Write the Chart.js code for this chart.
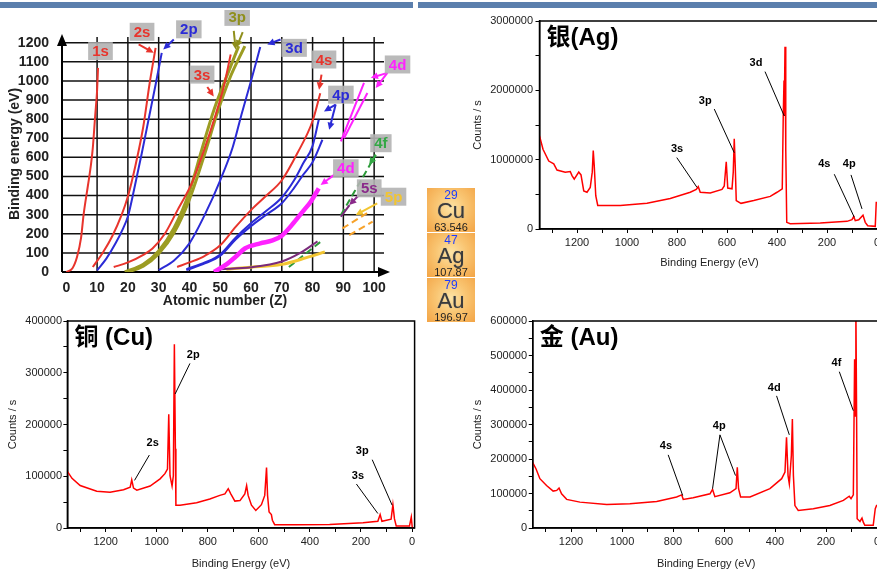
<!DOCTYPE html>
<html>
<head>
<meta charset="utf-8">
<script src="https://cdn.jsdelivr.net/npm/chart.js@4.4.1/dist/chart.umd.min.js"></script>
<style>
  body { margin: 0; width: 877px; height: 572px; overflow: hidden; background: #fff; position: relative; }
  canvas { position: absolute; }
  .bar { position: absolute; top: 2px; height: 6px; background: #5b7fad; }
  .tile { position: absolute; left: 427px; width: 48px; height: 44px; text-align: center;
          font-family: "Liberation Sans", Arial, sans-serif;
          background: radial-gradient(ellipse at 50% 45%, #fde4a6 0%, #f9c572 45%, #f3a445 100%);
          border-bottom: 1px solid #fff; }
  .tile span { position: absolute; left: 0; right: 0; }
  .num { top: 1px; font-size: 12px; line-height: 12px; color: #1f3cff; }
  .sym { top: 12px; font-size: 22px; line-height: 22px; color: #3a3a3a; text-shadow: 0 0 1px #888; }
  .wt { top: 34px; font-size: 11px; line-height: 11px; color: #222; }
</style>
</head>
<body>
<div class="bar" style="left:0;width:413px"></div>
<div class="bar" style="left:418px;width:459px"></div>

<canvas id="zChart" width="415" height="300" style="left:0;top:10px"></canvas>
<canvas id="agChart" width="450" height="270" style="left:440px;top:10px"></canvas>
<canvas id="cuChart" width="430" height="262" style="left:0;top:310px"></canvas>
<canvas id="auChart" width="450" height="262" style="left:440px;top:310px"></canvas>

<div class="tile" style="top:188px"><span class="num">29</span><span class="sym">Cu</span><span class="wt">63.546</span></div>
<div class="tile" style="top:233px"><span class="num">47</span><span class="sym">Ag</span><span class="wt">107.87</span></div>
<div class="tile" style="top:278px"><span class="num">79</span><span class="sym">Au</span><span class="wt">196.97</span></div>

<script>
// ---- Bindungsenergie gegen Ordnungszahl: Kurven als [Z, eV] ----
const zTicks = [0, 10, 20, 30, 40, 50, 60, 70, 80, 90, 100];
const eTicks = [0, 100, 200, 300, 400, 500, 600, 700, 800, 900, 1000, 1100, 1200];

const orbit1s = [[0,0],[2,20],[3.5,80],[4.8,180],[5.6,298],[7,450],[8,560],[8.6,648],[9.4,823],[10,950],[10.3,1068]];
const orbit2s = [[8.6,26],[12,105],[15,190],[18,300],[20,395],[22.5,560],[25,760],[27,980],[29,1173]];
const orbit2p = [[10,9],[13,70],[16,150],[18.5,230],[20,290],[22,430],[24.5,620],[27,820],[29,980],[31,1147]];
const orbit3s = [[15.4,26],[20,50],[25,90],[28,123],[32,200],[36,320],[41,473],[45,650],[48.5,823],[51,960],[53.4,1138]];
const orbit3pA = [[19,0],[25,40],[30,110],[35,230],[40,420],[44,640],[48,850],[52,1020],[56,1182]];
const orbit3pB = [[20,0],[25,30],[30,95],[35,205],[40,380],[45,620],[49,830],[53,1010],[58,1182]];
const orbit3d = [[30,10],[35,60],[40,150],[45,300],[50,480],[54,650],[57,830],[60,1000],[63,1177]];
const orbit4s = [[36,26],[40,50],[45,85],[50,140],[55,236],[60,324],[65,400],[70,480],[75,620],[80,790],[82.5,935]];
const orbit4pA = [[39,15],[45,50],[50,92],[55,180],[60,255],[65,320],[70,390],[74,480],[77,570],[80,660],[82,797]];
const orbit4pB = [[39,10],[45,45],[50,85],[55,170],[60,240],[65,300],[70,360],[74,440],[77,510],[80,575],[83.2,692]];
const orbit4dLow = [[48,0],[52,40],[55,80],[58,123],[63,150],[67,165],[70,190],[74,260],[77,320],[79.4,368],[82,438]];
const orbit4dUpA = [[89.2,683],[96.7,990]];
const orbit4dUpB = [[90.2,700],[97.8,937]];
const orbit5sLow = [[50,15],[60,25],[70,55],[76,100],[81.6,160]];
const orbit5sUp = [[89.2,289],[92,350]];
const orbit5pLow = [[52,15],[60,25],[70,40],[78,75],[84,105]];
const orbit5pUpA = [[89.7,228],[98.4,315]];
const orbit5pUpB = [[91.9,193],[99.5,263]];
const orbit4fLow = [[72.3,26],[83.2,166]];
const orbit4fUp = [[89.2,298],[100.5,613]];

// Beschriftungen [Text, Z, eV] und Pfeile [Schale, Z1, eV1, Z2, eV2]
const orbitLabels = [
  ['1s', 11.1, 1156], ['2s', 24.6, 1257], ['2p', 39.8, 1270], ['3p', 55.5, 1335],
  ['3d', 74, 1173], ['3s', 44.1, 1033], ['4s', 83.7, 1112], ['4p', 89.2, 928],
  ['4d', 107.6, 1086], ['4f', 102.2, 674], ['4d', 90.8, 543], ['5s', 98.4, 438], ['5p', 106.3, 394]
];
const orbitArrows = [
  ['2s', 23.5, 1191, 28.4, 1147], ['2p', 34.9, 1217, 31.5, 1165],
  ['3p', 54.4, 1262, 55, 1165], ['3p', 57.3, 1255, 55.3, 1175],
  ['3d', 69.6, 1217, 65.3, 1191], ['3s', 45.8, 968, 47.9, 919], ['4s', 82.9, 1033, 82.1, 954],
  ['4p', 87.5, 876, 83.7, 840], ['4p', 87.5, 876, 85.4, 744],
  ['4d', 104.3, 1042, 98.9, 1016], ['4d', 104.3, 1042, 100.5, 963],
  ['4f', 100.5, 613, 98.4, 560], ['4d', 87, 508, 82.6, 455],
  ['5s', 95.1, 403, 91.9, 350], ['5p', 101, 359, 94, 298]
];

// ---- XPS-Spektren: Bindungsenergie (eV) und Counts/s ----
const beTicks = [0, 100, 200, 300, 400, 500, 600, 700, 800, 900, 1000, 1100, 1200, 1300];

const agEnergy = [1350,1336,1313,1293,1280,1247,1227,1220,1211,1193,1184,1173,1160,1147,1139,1135,1131,1125,1117,1027,
  920,827,747,723,715,707,667,620,611,603,597,580,575,571,567,563,544,493,427,400,
  379,375,372,371,368,365,361,347,227,120,100,93,87,73,56,47,37,7,3,-10];
const agCounts = [1344000,1150000,980000,940000,850000,820000,830000,770000,720000,820000,780000,550000,530000,600000,820000,1130000,910000,480000,340000,340000,
  370000,440000,530000,570000,610000,530000,520000,570000,620000,970000,590000,580000,820000,1300000,910000,410000,370000,410000,470000,530000,
  580000,1630000,2140000,1630000,2630000,1150000,96000,77000,86000,110000,134000,180000,120000,134000,200000,96000,48000,38000,384000,384000];

const cuEnergy = [1352,1332,1300,1235,1183,1130,1104,1098,1091,1078,1026,987,968,958,953,948,940,935,931,927,
  925,909,844,792,753,733,720,710,694,674,655,648,642,629,612,590,577,570,566,560,
  551,547,538,453,323,192,134,125,118,82,75,69,62,10,3,-1,-10];
const cuCounts = [111000,96000,82000,71000,69000,74000,79000,93000,77000,73000,81000,95000,105000,114000,220000,101000,81000,101000,355000,153000,
  44000,44000,49000,56000,63000,66000,76000,66000,52000,53000,66000,82000,63000,44000,34000,45000,63000,117000,63000,31000,
  26000,15000,6400,6400,7000,10000,13000,26000,13000,17000,45000,18000,4000,4000,21000,0,0];

const auEnergy = [1351,1337,1322,1296,1270,1256,1247,1237,1217,1165,1060,969,864,786,766,760,721,655,645,636,
  577,553,548,543,535,498,420,374,361,355,349,344,336,332,328,322,309,250,185,132,
  109,102,93,88,85,83,80,78,67,59,54,48,15,7,2,-10];
const auCounts = [191000,171000,143000,123000,107000,109000,116000,99000,83000,75000,68000,70000,77000,90000,96000,83000,88000,99000,112000,91000,
  102000,114000,176000,114000,90000,90000,114000,143000,162000,263000,152000,128000,210000,316000,152000,65000,51000,56000,65000,80000,
  92000,85000,96000,489000,325000,650000,300000,27000,19000,29000,17000,8000,8000,56000,65000,65000];

// Peak-Beschriftungen [Text, eV, Counts, Linie eV1, Counts1, eV2, Counts2]
const agNotes = [
  ['3s', 800, 1150000, 801, 1030000, 720, 600000],
  ['3p', 687, 1850000, 651, 1730000, 571, 1100000],
  ['3d', 484, 2390000, 448, 2270000, 371, 1630000],
  ['4s', 211, 936000, 171, 790000, 91, 170000],
  ['4p', 111, 936000, 104, 780000, 60, 290000]
];
const cuNotes = [
  ['2s', 1016, 164000, 1029, 141000, 1087, 92000],
  ['2p', 857, 334000, 870, 318000, 928, 259000],
  ['3s', 212, 101000, 218, 85000, 134, 28000],
  ['3p', 195, 148000, 156, 132000, 78, 44000]
];
const auNotes = [
  ['4s', 828, 239000, 819, 212000, 762, 94000],
  ['4p', 619, 295000, 616, 270000, 645, 114000],
  ['', 0, 0, 616, 270000, 555, 152000],
  ['4d', 403, 407000, 394, 383000, 344, 270000],
  ['4f', 159, 478000, 148, 453000, 93, 340000]
];

const FAM = '"Liberation Sans", Arial, "Noto Sans CJK SC", sans-serif';
const labelColors = {
  '1s': '#e8342c', '2s': '#e8342c', '3s': '#e8342c', '4s': '#e8342c',
  '2p': '#2b2bd6', '3d': '#2b2bd6', '4p': '#2b2bd6', '3p': '#8f8f1c',
  '4d': '#ff22ff', '4f': '#33a845', '5s': '#8a2a8a', '5p': '#f2c531'
};

const pts = arr => arr.map(([x, y]) => ({ x, y }));

// Pfeil mit gefüllter Spitze
function arrow(ctx, x1, y1, x2, y2, color) {
  const ang = Math.atan2(y2 - y1, x2 - x1);
  ctx.strokeStyle = color; ctx.fillStyle = color; ctx.lineWidth = 2;
  ctx.beginPath(); ctx.moveTo(x1, y1); ctx.lineTo(x2 - 5 * Math.cos(ang), y2 - 5 * Math.sin(ang)); ctx.stroke();
  ctx.beginPath();
  ctx.moveTo(x2, y2);
  ctx.lineTo(x2 - 8 * Math.cos(ang - 0.45), y2 - 8 * Math.sin(ang - 0.45));
  ctx.lineTo(x2 - 8 * Math.cos(ang + 0.45), y2 - 8 * Math.sin(ang + 0.45));
  ctx.closePath(); ctx.fill();
}

const bindingDecor = {
  id: 'bindingDecor',
  beforeDatasetsDraw(chart) {
    const { ctx, chartArea: a, scales: { x, y } } = chart;
    ctx.save();
    ctx.strokeStyle = '#111'; ctx.lineWidth = 1.5;
    const y0 = y.getPixelForValue(0);
    zTicks.slice(1).forEach(z => {
      const px = x.getPixelForValue(z);
      ctx.beginPath(); ctx.moveTo(px, y0); ctx.lineTo(px, y.getPixelForValue(1230)); ctx.stroke();
    });
    eTicks.slice(1).forEach(e => {
      const py = y.getPixelForValue(e);
      ctx.beginPath(); ctx.moveTo(a.left, py); ctx.lineTo(a.right - 4, py); ctx.stroke();
    });
    // Achsen mit Pfeilspitzen
    ctx.lineWidth = 2; ctx.strokeStyle = '#000'; ctx.fillStyle = '#000';
    ctx.beginPath(); ctx.moveTo(a.left, y0); ctx.lineTo(a.right - 6, y0); ctx.stroke();
    ctx.beginPath(); ctx.moveTo(a.left, y0); ctx.lineTo(a.left, a.top + 6); ctx.stroke();
    ctx.beginPath(); ctx.moveTo(a.right + 2, y0); ctx.lineTo(a.right - 10, y0 - 5); ctx.lineTo(a.right - 10, y0 + 5); ctx.closePath(); ctx.fill();
    ctx.beginPath(); ctx.moveTo(a.left, a.top - 2); ctx.lineTo(a.left - 5, a.top + 10); ctx.lineTo(a.left + 5, a.top + 10); ctx.closePath(); ctx.fill();
    ctx.restore();
  },
  afterDatasetsDraw(chart) {
    const { ctx, scales: { x, y } } = chart;
    ctx.save();
    orbitArrows.forEach(([k, z1, e1, z2, e2]) => {
      arrow(ctx, x.getPixelForValue(z1), y.getPixelForValue(e1), x.getPixelForValue(z2), y.getPixelForValue(e2), labelColors[k]);
    });
    ctx.font = 'bold 15px ' + FAM;
    ctx.textAlign = 'center'; ctx.textBaseline = 'middle';
    orbitLabels.forEach(([t, z, e]) => {
      const px = x.getPixelForValue(z), py = y.getPixelForValue(e);
      const w = ctx.measureText(t).width + 8;
      ctx.fillStyle = 'rgba(178,178,178,0.9)';
      ctx.fillRect(px - w / 2, py - 9, w, 18);
      ctx.fillStyle = labelColors[t];
      ctx.fillText(t, px, py + 1);
    });
    ctx.restore();
  }
};

const curveStyles = [
  [orbit1s, '#e8342c', 2], [orbit2s, '#e8342c', 2], [orbit2p, '#2b2bd6', 2], [orbit3s, '#e8342c', 2],
  [orbit3pA, '#9c9c22', 3], [orbit3pB, '#9c9c22', 3], [orbit3d, '#2b2bd6', 2], [orbit4s, '#e8342c', 2],
  [orbit4pA, '#2b2bd6', 2], [orbit4pB, '#2b2bd6', 2], [orbit4dLow, '#ff22ff', 4.5],
  [orbit4dUpA, '#ff22ff', 2], [orbit4dUpB, '#ff22ff', 2],
  [orbit5sLow, '#7a2a7a', 2], [orbit5sUp, '#7a2a7a', 2],
  [orbit5pLow, '#f2c531', 3], [orbit5pUpA, '#f7a22a', 2, [7, 4]], [orbit5pUpB, '#f7a22a', 2, [7, 4]],
  [orbit4fLow, '#2e9a3a', 2, [7, 4]], [orbit4fUp, '#2e9a3a', 2, [7, 4]]
];

new Chart(document.getElementById('zChart'), {
  type: 'line',
  data: {
    datasets: curveStyles.map(([d, color, w, dash]) => ({
      data: pts(d), borderColor: color, borderWidth: w, borderDash: dash || [],
      pointRadius: 0, fill: false, cubicInterpolationMode: 'monotone'
    }))
  },
  options: {
    responsive: false, animation: false, events: [],
    layout: { padding: { top: 26, right: 27, left: 0, bottom: 0 } },
    plugins: { legend: { display: false }, tooltip: { enabled: false } },
    scales: {
      x: {
        type: 'linear', min: -1.4, max: 104.5,
        afterBuildTicks: s => { s.ticks = zTicks.map(v => ({ value: v })); },
        afterFit: s => { s.height = 38; },
        grid: { display: false }, border: { display: false },
        ticks: { color: '#222', font: { family: FAM, size: 14, weight: 'bold' }, padding: 0, maxRotation: 0, autoSkip: false,
                 callback: v => String(v) },
        title: { display: true, text: 'Atomic number (Z)', color: '#222', font: { family: FAM, size: 14, weight: 'bold' }, padding: { top: 0, bottom: 0 } }
      },
      y: {
        min: 0, max: 1235,
        afterBuildTicks: s => { s.ticks = eTicks.map(v => ({ value: v })); },
        afterFit: s => { s.width = 62; },
        grid: { display: false }, border: { display: false },
        ticks: { color: '#222', font: { family: FAM, size: 14, weight: 'bold' }, padding: 5, autoSkip: false,
                 callback: v => String(v) },
        title: { display: true, text: 'Binding energy (eV)', color: '#222', font: { family: FAM, size: 14, weight: 'bold' }, padding: { top: 7, bottom: 0 } }
      }
    }
  },
  plugins: [bindingDecor]
});

// Rahmen, Titel und Peak-Beschriftungen für ein Spektrum
function spectrumDecor(title, notes) {
  return {
    id: 'spectrumDecor',
    afterDatasetsDraw(chart) {
      const { ctx, chartArea: a, scales: { x, y } } = chart;
      ctx.save();
      ctx.strokeStyle = '#000'; ctx.lineWidth = 1.5;
      ctx.strokeRect(a.left, a.top, a.right - a.left, a.bottom - a.top);
      ctx.fillStyle = '#000';
      ctx.font = 'bold 24px ' + FAM;
      ctx.textBaseline = 'middle';
      ctx.fillText(title, a.left + 7, a.top + 17);
      ctx.font = 'bold 11px ' + FAM;
      ctx.textAlign = 'center';
      ctx.lineWidth = 1;
      notes.forEach(([t, lx, ly, x1, y1, x2, y2]) => {
        if (t) ctx.fillText(t, x.getPixelForValue(lx), y.getPixelForValue(ly));
        ctx.beginPath();
        ctx.moveTo(x.getPixelForValue(x1), y.getPixelForValue(y1));
        ctx.lineTo(x.getPixelForValue(x2), y.getPixelForValue(y2));
        ctx.stroke();
      });
      ctx.restore();
    }
  };
}

function spectrumChart(id, energy, counts, cfg) {
  const tickFont = { family: FAM, size: 11 };
  const yTicks = [];
  for (let v = 0; v <= cfg.yMax; v += cfg.yStep) yTicks.push(v);
  return new Chart(document.getElementById(id), {
    type: 'line',
    data: {
      datasets: [{
        data: energy.map((e, i) => ({ x: e, y: counts[i] })),
        borderColor: '#ff0000', borderWidth: 1.5, pointRadius: 0, tension: 0, fill: false
      }]
    },
    options: {
      responsive: false, animation: false, events: [],
      layout: { padding: { top: 11, right: cfg.padRight, left: 0, bottom: 0 } },
      plugins: { legend: { display: false }, tooltip: { enabled: false } },
      scales: {
        x: {
          type: 'linear', min: -10, max: 1350, reverse: true,
          afterBuildTicks: s => { s.ticks = beTicks.map(v => ({ value: v })); },
          afterFit: s => { s.height = cfg.xAxisH; },
          grid: { display: true, drawOnChartArea: false, drawTicks: true, tickLength: 4, color: '#000' },
          border: { color: '#000', width: 1.5 },
          ticks: { color: '#222', font: tickFont, padding: 3.5, maxRotation: 0, autoSkip: false,
                   callback: v => (v % 200 === 0 ? String(v) : '') },
          title: { display: true, text: 'Binding Energy (eV)', color: '#222', font: tickFont, padding: { top: 0, bottom: cfg.xTitlePad } }
        },
        y: {
          min: 0, max: cfg.yMax,
          afterBuildTicks: s => { s.ticks = yTicks.map(v => ({ value: v })); },
          afterFit: s => { s.width = cfg.yAxisW; },
          grid: { display: true, drawOnChartArea: false, drawTicks: true, tickLength: 4, color: '#000' },
          border: { color: '#000', width: 1.5 },
          ticks: { color: '#222', font: tickFont, padding: cfg.yLabelPad, autoSkip: false,
                   callback: v => (v % cfg.yLabelStep === 0 ? String(v) : '') },
          title: { display: true, text: 'Counts / s', color: '#222', font: tickFont, padding: { top: cfg.yTitlePad, bottom: 0 } }
        }
      }
    },
    plugins: [spectrumDecor(cfg.title, cfg.notes)]
  });
}

spectrumChart('agChart', agEnergy, agCounts, {
  title: '银(Ag)', notes: agNotes, yMax: 3000000, yStep: 500000, yLabelStep: 1000000,
  padRight: 10.5, xAxisH: 51, yAxisW: 99.5, yLabelPad: 2.5, yTitlePad: 31, xTitlePad: 10.4
});
spectrumChart('cuChart', cuEnergy, cuCounts, {
  title: '铜 (Cu)', notes: cuNotes, yMax: 400000, yStep: 50000, yLabelStep: 100000,
  padRight: 15.4, xAxisH: 44, yAxisW: 67.4, yLabelPad: 1.4, yTitlePad: 6.4, xTitlePad: 1.4
});
spectrumChart('auChart', auEnergy, auCounts, {
  title: '金 (Au)', notes: auNotes, yMax: 600000, yStep: 50000, yLabelStep: 100000,
  padRight: 10.4, xAxisH: 44, yAxisW: 92.75, yLabelPad: 1.75, yTitlePad: 31.4, xTitlePad: 1.4
});
</script>
</body>
</html>
